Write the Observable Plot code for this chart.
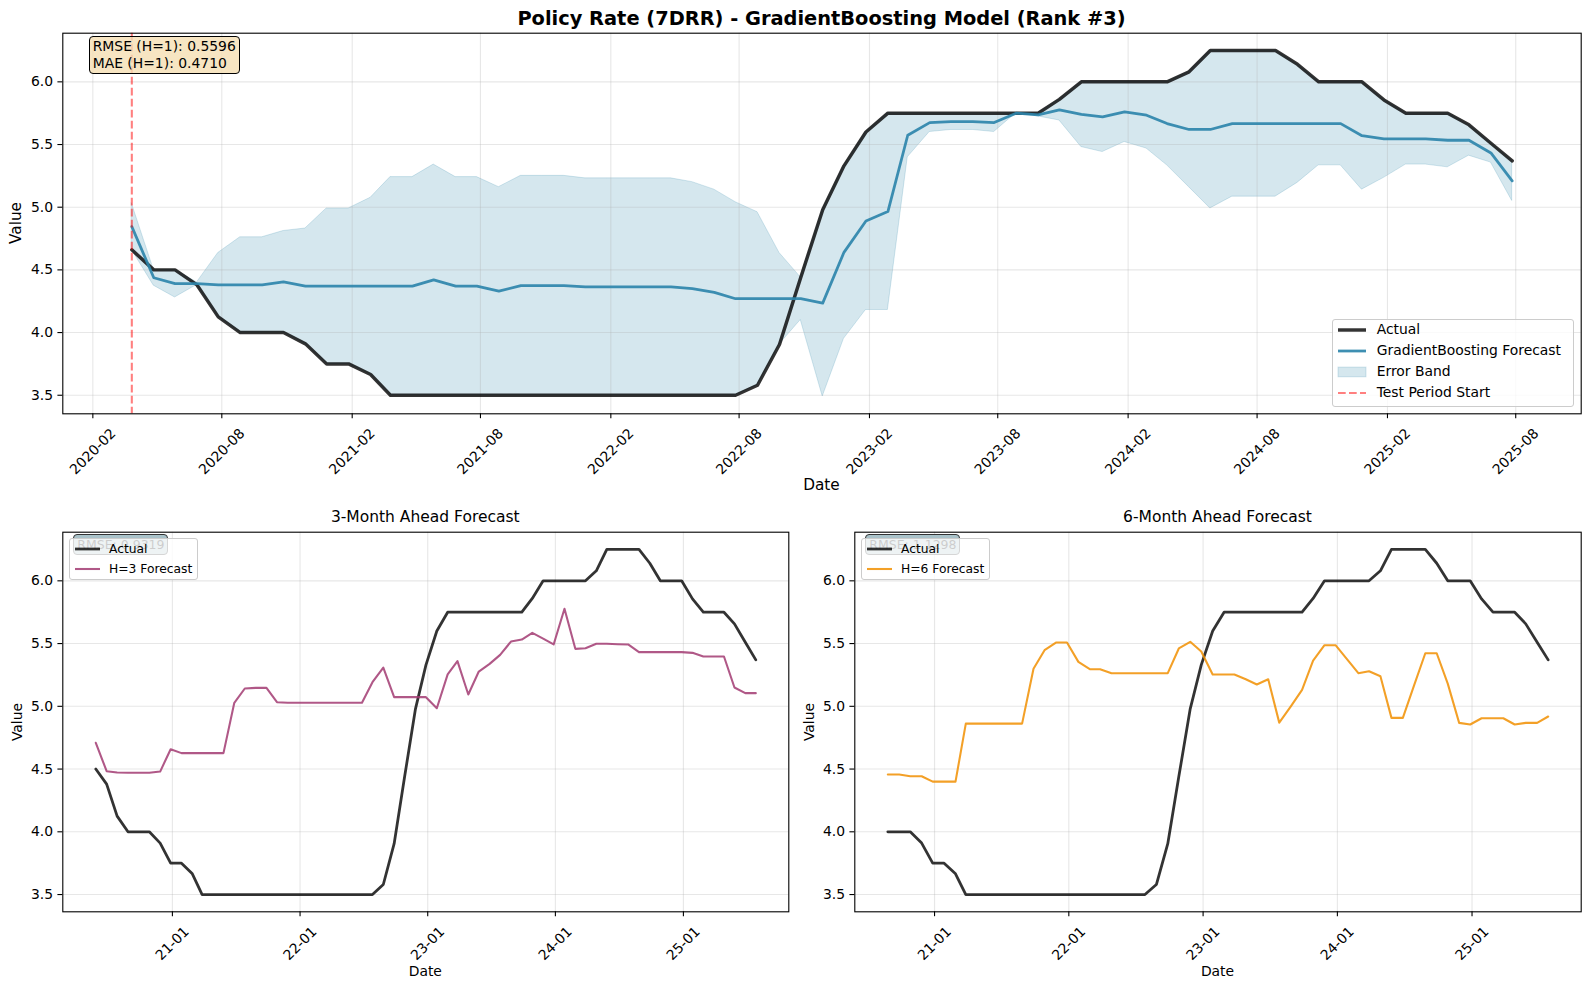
<!DOCTYPE html>
<html>
<head>
<meta charset="utf-8">
<script src="https://cdn.jsdelivr.net/npm/d3@7"></script>
<script src="https://cdn.jsdelivr.net/npm/@observablehq/plot@0.6"></script>
<style>
  body { margin: 0; background: #fff; }
  #fig { position: relative; width: 1589px; height: 989px; background: #fff; overflow: hidden;
         font-family: "DejaVu Sans", sans-serif; color: #000; }
  .abs { position: absolute; white-space: nowrap; line-height: 1; }
  .ctr { transform: translate(-50%, -50%); }
  .vlab { transform: translate(-50%, -50%) rotate(-90deg); }
  .panel { position: absolute; }
  .panel svg { overflow: visible; }
</style>
</head>
<body>
<div id="fig"></div>
<script>
// ---------------- DATA ----------------
const months = [
  "2020-03","2020-04","2020-05","2020-06","2020-07","2020-08","2020-09","2020-10","2020-11","2020-12",
  "2021-01","2021-02","2021-03","2021-04","2021-05","2021-06","2021-07","2021-08","2021-09","2021-10","2021-11","2021-12",
  "2022-01","2022-02","2022-03","2022-04","2022-05","2022-06","2022-07","2022-08","2022-09","2022-10","2022-11","2022-12",
  "2023-01","2023-02","2023-03","2023-04","2023-05","2023-06","2023-07","2023-08","2023-09","2023-10","2023-11","2023-12",
  "2024-01","2024-02","2024-03","2024-04","2024-05","2024-06","2024-07","2024-08","2024-09","2024-10","2024-11","2024-12",
  "2025-01","2025-02","2025-03","2025-04","2025-05","2025-06","2025-07"
];

const actual = [
  4.66, 4.50, 4.50, 4.38, 4.125, 4.00, 4.00, 4.00, 3.91, 3.75,
  3.75, 3.665, 3.50, 3.50, 3.50, 3.50, 3.50, 3.50, 3.50, 3.50, 3.50, 3.50,
  3.50, 3.50, 3.50, 3.50, 3.50, 3.50, 3.50, 3.58, 3.905, 4.44, 4.98, 5.33,
  5.60, 5.75, 5.75, 5.75, 5.75, 5.75, 5.75, 5.75, 5.75, 5.86, 6.00, 6.00,
  6.00, 6.00, 6.00, 6.08, 6.25, 6.25, 6.25, 6.25, 6.14, 6.00, 6.00, 6.00,
  5.856, 5.75, 5.75, 5.75, 5.657, 5.51, 5.37
];

const gbForecast = [
  4.845, 4.437, 4.39, 4.39, 4.38, 4.38, 4.38, 4.405, 4.37, 4.37,
  4.37, 4.37, 4.37, 4.37, 4.42, 4.37, 4.37, 4.33, 4.375, 4.375, 4.375, 4.365,
  4.365, 4.365, 4.365, 4.365, 4.35, 4.32, 4.27, 4.27, 4.27, 4.27, 4.235, 4.64,
  4.89, 4.965, 5.574, 5.675, 5.683, 5.683, 5.675, 5.75, 5.737, 5.776, 5.74, 5.72,
  5.76, 5.734, 5.667, 5.62, 5.62, 5.667, 5.667, 5.667, 5.667, 5.667, 5.667, 5.57,
  5.545, 5.545, 5.545, 5.534, 5.534, 5.433, 5.21
];

// H=3 forecast starts at months[2], H=6 forecast at months[5]
const h3Start = 2;
const h3Forecast = [
  4.709, 4.483, 4.472, 4.47, 4.47, 4.47, 4.48, 4.658, 4.627, 4.627,
  4.627, 4.627, 4.627, 5.028, 5.142, 5.147, 5.147, 5.033, 5.028, 5.028,
  5.028, 5.028, 5.028, 5.028, 5.028, 5.028, 5.192, 5.309, 5.073, 5.073,
  5.073, 5.073, 4.985, 5.254, 5.36, 5.094, 5.277, 5.338, 5.41, 5.516,
  5.532, 5.585, 5.54, 5.493, 5.777, 5.458, 5.463, 5.498, 5.498, 5.495,
  5.493, 5.432, 5.432, 5.432, 5.432, 5.432, 5.426, 5.397, 5.397, 5.397,
  5.15, 5.105, 5.105
];
const h6Start = 5;
const h6Forecast = [
  4.456, 4.456, 4.443, 4.443, 4.40, 4.40, 4.40, 4.862, 4.862, 4.862,
  4.862, 4.862, 4.862, 5.30, 5.447, 5.508, 5.508, 5.354, 5.296, 5.296,
  5.264, 5.264, 5.264, 5.264, 5.264, 5.264, 5.461, 5.514, 5.437, 5.253,
  5.253, 5.253, 5.216, 5.174, 5.216, 4.870, 4.998, 5.131, 5.365, 5.487,
  5.487, 5.376, 5.264, 5.28, 5.24, 4.908, 4.908, 5.163, 5.423, 5.423,
  5.181, 4.868, 4.855, 4.905, 4.905, 4.905, 4.855, 4.868, 4.868, 4.919
];

const topTickLabels = ["2020-02","2020-08","2021-02","2021-08","2022-02","2022-08",
                       "2023-02","2023-08","2024-02","2024-08","2025-02","2025-08"];
const bottomTickLabels = ["2021-01","2022-01","2023-01","2024-01","2025-01"];
const yTicks = [3.5, 4.0, 4.5, 5.0, 5.5, 6.0];

const mainTitle = "Policy Rate (7DRR) - GradientBoosting Model (Rank #3)";
const metricsText = ["RMSE (H=1): 0.5596", "MAE (H=1): 0.4710"];
const h3Rmse = "RMSE: 0.9319";
const h6Rmse = "RMSE: 1.1298";

// ---------------- HELPERS ----------------
const C_ACT = "#000", C_GB = "#2E86AB", C_H3 = "#A23B72", C_H6 = "#F18F01";
const dates = months.map(m => new Date(m + "-27T00:00:00Z"));
const topTicks = topTickLabels.map(m => new Date(m + "-01T00:00:00Z"));
const botTicks = bottomTickLabels.map(m => new Date(m + "-01T00:00:00Z"));

function padDom(lo, hi) { const s = hi - lo; return [lo - 0.05 * s, hi + 0.05 * s]; }
function dateDom(ds) {
  const [a, b] = padDom(+ds[0], +ds[ds.length - 1]);
  return [new Date(a), new Date(b)];
}

const topRows = dates.map((d, i) => {
  const err = Math.abs(actual[i] - gbForecast[i]);
  return {date: d, actual: actual[i], forecast: gbForecast[i], lo: gbForecast[i] - err, hi: gbForecast[i] + err};
});
const h3Rows = h3Forecast.map((v, i) => ({date: dates[i + h3Start], actual: actual[i + h3Start], forecast: v}));
const h6Rows = h6Forecast.map((v, i) => ({date: dates[i + h6Start], actual: actual[i + h6Start], forecast: v}));

const gridStyle = {stroke: "#b0b0b0", strokeOpacity: 0.3, strokeWidth: 1.1};
const baseStyle = {fontFamily: "DejaVu Sans", fontSize: "13.9px", color: "#000",
                   background: "transparent", overflow: "visible"};

function yAxis() {
  return Plot.axisY(yTicks, {tickSize: 4.9, tickPadding: 4.9, tickFormat: d => d.toFixed(1),
                             label: null, strokeWidth: 1.1});
}
function xAxis(ticks, fmt, pad) {
  return Plot.axisX(ticks, {tickSize: 4.9, tickRotate: -45, textAnchor: "middle", lineAnchor: "middle",
                            tickPadding: pad, tickFormat: d3.utcFormat(fmt), label: null, strokeWidth: 1.1});
}

const fig = document.getElementById("fig");
function place(el, left, top) {
  const d = document.createElement("div");
  d.className = "panel"; d.style.left = left + "px"; d.style.top = top + "px";
  d.appendChild(el); fig.appendChild(d);
}
function text(str, x, y, fs, opts = {}) {
  const d = document.createElement("div");
  d.className = "abs " + (opts.rot ? "vlab" : "ctr");
  d.style.left = x + "px"; d.style.top = y + "px"; d.style.fontSize = fs + "px";
  if (opts.bold) d.style.fontWeight = "bold";
  d.textContent = str; fig.appendChild(d); return d;
}
function box(left, top, w, h, fill, stroke, radius) {
  const d = document.createElement("div");
  d.style.cssText = `position:absolute;left:${left}px;top:${top}px;width:${w}px;height:${h}px;` +
    `background:${fill};border:1px solid ${stroke};border-radius:${radius}px;box-sizing:border-box;`;
  fig.appendChild(d); return d;
}
function swatch(kind, x0, x1, cy, color, opts = {}) {
  const w = x1 - x0, h = 16;
  const ns = "http://www.w3.org/2000/svg";
  const s = document.createElementNS(ns, "svg");
  s.setAttribute("width", w); s.setAttribute("height", h);
  s.style.cssText = `position:absolute;left:${x0}px;top:${cy - h / 2}px;overflow:visible`;
  let el;
  if (kind === "patch") {
    el = document.createElementNS(ns, "rect");
    el.setAttribute("x", 0); el.setAttribute("y", h / 2 - 4.9);
    el.setAttribute("width", w); el.setAttribute("height", 9.7);
    el.setAttribute("fill", color); el.setAttribute("fill-opacity", 0.2);
    el.setAttribute("stroke", color); el.setAttribute("stroke-opacity", 0.2);
  } else {
    el = document.createElementNS(ns, "line");
    el.setAttribute("x1", 0); el.setAttribute("x2", w);
    el.setAttribute("y1", h / 2); el.setAttribute("y2", h / 2);
    el.setAttribute("stroke", color);
    el.setAttribute("stroke-width", opts.width || 2);
    el.setAttribute("stroke-opacity", opts.opacity ?? 1);
    if (opts.dash) el.setAttribute("stroke-dasharray", opts.dash);
  }
  s.appendChild(el); fig.appendChild(s);
}
function leftText(str, x, cy, fs) {
  const d = document.createElement("div");
  d.className = "abs";
  d.style.left = x + "px"; d.style.top = (cy - fs / 2) + "px"; d.style.fontSize = fs + "px";
  d.style.lineHeight = fs + "px";
  d.textContent = str; fig.appendChild(d); return d;
}

// ---------------- TOP PANEL ----------------
const topYDom = padDom(d3.min(topRows, r => Math.min(r.actual, r.lo)), d3.max(topRows, r => Math.max(r.actual, r.hi)));
const topPlot = Plot.plot({
  width: 1589, height: 500,
  marginLeft: 62.3, marginRight: 8.3, marginTop: 32.7, marginBottom: 86.7,
  style: baseStyle,
  x: {type: "utc", domain: dateDom(dates)},
  y: {domain: topYDom},
  marks: [
    Plot.areaY(topRows, {x: "date", y1: "lo", y2: "hi", fill: C_GB, fillOpacity: 0.2,
                         stroke: C_GB, strokeOpacity: 0.2, strokeWidth: 1}),
    Plot.gridX(topTicks, gridStyle),
    Plot.gridY(yTicks, gridStyle),
    Plot.line(topRows, {x: "date", y: "actual", stroke: C_ACT, strokeOpacity: 0.8, strokeWidth: 3.47}),
    Plot.line(topRows, {x: "date", y: "forecast", stroke: C_GB, strokeOpacity: 0.92, strokeWidth: 2.78}),
    Plot.ruleX([dates[0]], {stroke: "red", strokeOpacity: 0.5, strokeWidth: 2.08, strokeDasharray: "7.7,3.3"}),
    xAxis(topTicks, "%Y-%m", 33),
    yAxis(),
    Plot.frame({stroke: "#000", strokeWidth: 1.1})
  ]
});
place(topPlot, 0, 0);

// ---------------- BOTTOM PANELS ----------------
function bottomPlot(rows, color, marginLeft, marginRight, width) {
  const yd = padDom(d3.min(rows, r => Math.min(r.actual, r.forecast)), d3.max(rows, r => Math.max(r.actual, r.forecast)));
  return Plot.plot({
    width, height: 489,
    marginLeft, marginRight, marginTop: 31.7, marginBottom: 77.7,
    style: baseStyle,
    x: {type: "utc", domain: dateDom(rows.map(r => r.date))},
    y: {domain: yd},
    marks: [
      Plot.gridX(botTicks, gridStyle),
      Plot.gridY(yTicks, gridStyle),
      Plot.line(rows, {x: "date", y: "actual", stroke: C_ACT, strokeOpacity: 0.8, strokeWidth: 2.78}),
      Plot.line(rows, {x: "date", y: "forecast", stroke: color, strokeOpacity: 0.85, strokeWidth: 2.08}),
      xAxis(botTicks, "%y-%m", 27),
      yAxis(),
      Plot.frame({stroke: "#000", strokeWidth: 1.1})
    ]
  });
}
place(bottomPlot(h3Rows, C_H3, 62.3, 11.7, 800), 0, 500);
place(bottomPlot(h6Rows, C_H6, 54.3, 8.3, 789), 800, 500);

// ---------------- TEXT ----------------
text(mainTitle, 821.5, 18.5, 19.4, {bold: true});
text("Value", 16.5, 223, 15.3, {rot: true});
text("Date", 821.5, 485.5, 15.3);

text("3-Month Ahead Forecast", 425.3, 518, 15.5);
text("6-Month Ahead Forecast", 1217.5, 518, 15.5);
text("Value", 17.5, 721.5, 13.9, {rot: true});
text("Value", 809.5, 721.5, 13.9, {rot: true});
text("Date", 425.3, 972, 13.9);
text("Date", 1217.5, 972, 13.9);

// metrics box (top)
box(88.5, 35.7, 151, 38.5, "rgba(245,222,179,0.8)", "#000", 4);
leftText(metricsText[0], 92.7, 46.7, 13.9);
leftText(metricsText[1], 92.7, 64, 13.9);

// top legend
box(1332, 319, 241.5, 87.5, "rgba(255,255,255,0.8)", "#cccccc", 3);
const tl = {x0: 1337.5, x1: 1365.5, tx: 1376.7, fs: 13.9};
swatch("line", tl.x0, tl.x1, 330, C_ACT, {width: 3.47, opacity: 0.8});
leftText("Actual", tl.tx, 330, tl.fs);
swatch("line", tl.x0, tl.x1, 351, C_GB, {width: 2.78, opacity: 0.92});
leftText("GradientBoosting Forecast", tl.tx, 351, tl.fs);
swatch("patch", tl.x0, tl.x1, 372, C_GB);
leftText("Error Band", tl.tx, 372, tl.fs);
swatch("line", tl.x0, tl.x1, 392.7, "red", {width: 2.08, opacity: 0.5, dash: "7.7,3.3"});
leftText("Test Period Start", tl.tx, 392.7, tl.fs);

// bottom RMSE boxes + legends (the legend sits over the RMSE box, as in the source figure)
function bottomLegend(dx, rmse, color, label) {
  box(72.7 + dx, 534.3, 95, 21, "#a9c2c9", "#333", 4);
  leftText(rmse, 77.3 + dx, 544.8, 12.5);
  box(69.3 + dx, 537.7, 129, 42.5, "rgba(255,255,255,0.8)", "#cccccc", 3);
  swatch("line", 75 + dx, 100 + dx, 549.3, C_ACT, {width: 2.78, opacity: 0.8});
  leftText("Actual", 109 + dx, 549.3, 12.3);
  swatch("line", 75 + dx, 100 + dx, 568.7, color, {width: 2.08, opacity: 0.85});
  leftText(label, 109 + dx, 568.7, 12.3);
}
bottomLegend(0, h3Rmse, C_H3, "H=3 Forecast");
bottomLegend(792, h6Rmse, C_H6, "H=6 Forecast");
</script>
</body>
</html>
